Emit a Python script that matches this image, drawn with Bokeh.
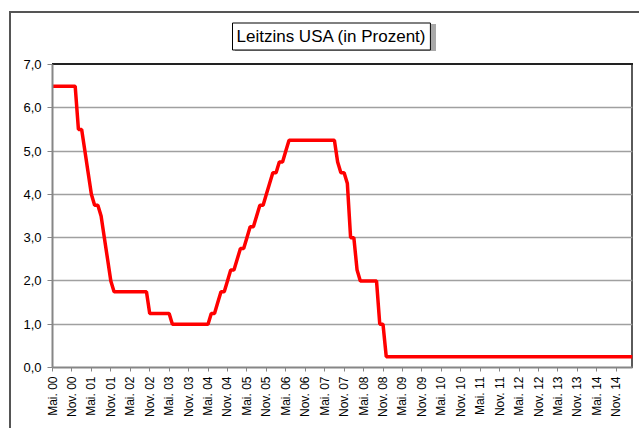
import math
from bokeh.plotting import figure
from bokeh.models import FixedTicker, Range1d
from bokeh.embed import file_html
from bokeh.resources import INLINE

# Monthly US key rate (percent), May 2000 .. Apr 2015
rates_2000 = [6.5, 6.5, 6.5, 6.5, 6.5, 6.5, 6.5, 6.5]  # May-Dec
rates_2001 = [5.5, 5.5, 5.0, 4.5, 4.0, 3.75, 3.75, 3.5, 3.0, 2.5, 2.0, 1.75]
rates_2002 = [1.75, 1.75, 1.75, 1.75, 1.75, 1.75, 1.75, 1.75, 1.75, 1.75, 1.25, 1.25]
rates_2003 = [1.25, 1.25, 1.25, 1.25, 1.25, 1.0, 1.0, 1.0, 1.0, 1.0, 1.0, 1.0]
rates_2004 = [1.0, 1.0, 1.0, 1.0, 1.0, 1.25, 1.25, 1.5, 1.75, 1.75, 2.0, 2.25]
rates_2005 = [2.25, 2.5, 2.75, 2.75, 3.0, 3.25, 3.25, 3.5, 3.75, 3.75, 4.0, 4.25]
rates_2006 = [4.5, 4.5, 4.75, 4.75, 5.0, 5.25, 5.25, 5.25, 5.25, 5.25, 5.25, 5.25]
rates_2007 = [5.25, 5.25, 5.25, 5.25, 5.25, 5.25, 5.25, 5.25, 4.75, 4.5, 4.5, 4.25]
rates_2008 = [3.0, 3.0, 2.25, 2.0, 2.0, 2.0, 2.0, 2.0, 2.0, 1.0, 1.0, 0.25]
rates_2009_2014 = [0.25] * 72
rates_2015 = [0.25, 0.25, 0.25, 0.25]  # Jan-Apr

rates = (rates_2000 + rates_2001 + rates_2002 + rates_2003 + rates_2004 + rates_2005
         + rates_2006 + rates_2007 + rates_2008 + rates_2009_2014 + rates_2015)
months = list(range(len(rates)))

tick_labels = ["Mai. 00", "Nov. 00", "Mai. 01", "Nov. 01", "Mai. 02", "Nov. 02",
               "Mai. 03", "Nov. 03", "Mai. 04", "Nov. 04", "Mai. 05", "Nov. 05",
               "Mai. 06", "Nov. 06", "Mai. 07", "Nov. 07", "Mai. 08", "Nov. 08",
               "Mai. 09", "Nov. 09", "Mai. 10", "Nov. 10", "Mai. 11", "Nov. 11",
               "Mai. 12", "Nov. 12", "Mai. 13", "Nov. 13", "Mai. 14", "Nov. 14"]
tick_positions = [6 * i for i in range(len(tick_labels))]
y_ticks = [0, 1, 2, 3, 4, 5, 6, 7]
y_tick_labels = ["0,0", "1,0", "2,0", "3,0", "4,0", "5,0", "6,0", "7,0"]
title_text = "Leitzins USA (in Prozent)"

FONT = "Liberation Sans"

p = figure(width=639, height=428, output_backend="svg", toolbar_location=None,
           min_border_left=52, min_border_right=7, min_border_top=64, min_border_bottom=61,
           x_range=Range1d(0, len(rates) - 1), y_range=Range1d(0, 7),
           title=title_text)
p.background_fill_alpha = 0
p.border_fill_alpha = 0
p.outline_line_color = None

# chart-area frame, plot-area top/right edges and title shadow (page decoration)
p.styles = {
    "background": (
        "linear-gradient(#555,#555) 9px 11px / 2px 600px no-repeat, "
        "linear-gradient(#555,#555) 9px 11px / 700px 2px no-repeat, "
        "linear-gradient(#222,#222) 52px 63px / 581px 2px no-repeat, "
        "linear-gradient(#5a5a5a,#5a5a5a) 631px 63px / 2px 305px no-repeat, "
        "linear-gradient(#a8a8a8,#a8a8a8) 235px 24px / 201px 27px no-repeat, "
        "white"
    )
}

t = p.title
t.align = "left"
t.offset = 180
t.standoff = 29
t.text_font = FONT
t.text_font_size = "17px"
t.text_font_style = "normal"
t.text_color = "black"
t.background_fill_color = "white"
t.border_line_color = "black"
t.border_line_width = 1
t.padding = 4

p.line(months, rates, line_color="#ff0000", line_width=3.5)

p.xgrid.visible = False
p.ygrid.ticker = FixedTicker(ticks=y_ticks)
p.ygrid.grid_line_color = "#a0a0a0"
p.ygrid.grid_line_width = 1.5

xa = p.xaxis[0]
xa.ticker = FixedTicker(ticks=tick_positions)
xa.major_label_overrides = {t: l for t, l in zip(tick_positions, tick_labels)}
xa.major_label_orientation = math.pi / 2
xa.major_label_text_font = FONT
xa.major_label_text_font_size = "12px"
xa.major_label_text_color = "black"
xa.major_label_standoff = 5
xa.major_tick_out = 4
xa.major_tick_in = 0
xa.minor_tick_out = 0
xa.minor_tick_in = 0
xa.axis_line_color = "#868686"
xa.axis_line_width = 2
xa.major_tick_line_color = "#868686"

ya = p.yaxis[0]
ya.ticker = FixedTicker(ticks=y_ticks)
ya.major_label_overrides = {t: l for t, l in zip(y_ticks, y_tick_labels)}
ya.major_label_text_font = FONT
ya.major_label_text_font_size = "13px"
ya.major_label_text_color = "black"
ya.major_label_standoff = 6
ya.major_tick_out = 5
ya.major_tick_in = 0
ya.minor_tick_out = 0
ya.minor_tick_in = 0
ya.axis_line_color = "#868686"
ya.axis_line_width = 2
ya.major_tick_line_color = "#868686"

open("out.html", "w").write(file_html(p, INLINE))
